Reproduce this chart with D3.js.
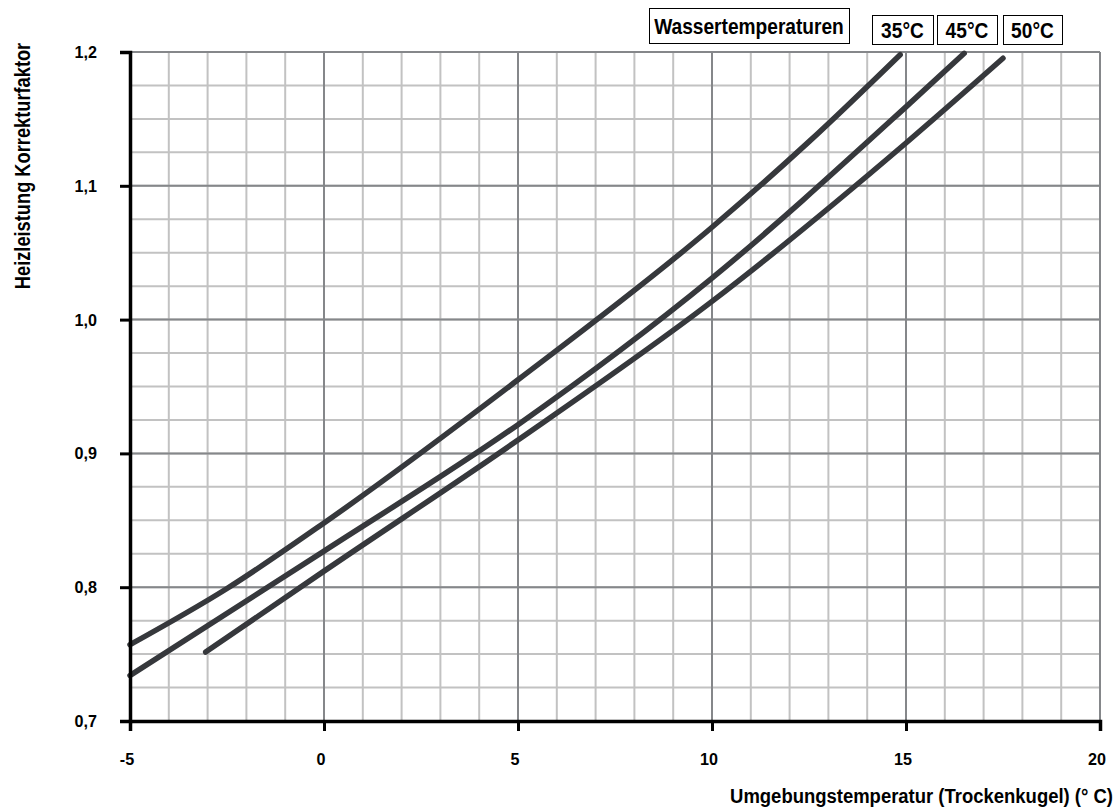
<!DOCTYPE html>
<html>
<head>
<meta charset="utf-8">
<script src="https://cdn.jsdelivr.net/npm/d3@7"></script>
<style>
  body { margin: 0; background: #fff; }
  svg text { font-family: "Liberation Sans", Arial, sans-serif; font-weight: bold; fill: #000; }
</style>
</head>
<body>
<svg id="chart" width="1117" height="807"></svg>
<script>
'use strict'

// water temperature series
const seriesNames = ['35°C', '45°C', '50°C']
const temp35 = [[-5, 0.757], [-2.5, 0.799], [0, 0.848], [5, 0.955], [10, 1.069], [12.5, 1.133], [14.85, 1.198]]
const temp45 = [[-5, 0.734], [0, 0.827], [5, 0.9215], [10, 1.031], [15, 1.159], [16.5, 1.199]]
const temp50 = [[-3.05, 0.7515], [0, 0.812], [5, 0.910], [10, 1.0136], [15, 1.132], [17.5, 1.1953]]

const xTicks = [-5, 0, 5, 10, 15, 20]
const yTicks = [0.7, 0.8, 0.9, 1.0, 1.1, 1.2]
const xTickLabels = ['-5', '0', '5', '10', '15', '20']
const yTickLabels = ['0,7', '0,8', '0,9', '1,0', '1,1', '1,2']
const xMinor = d3.range(-5, 20.001, 1)
const yMinor = d3.range(0, 21).map(i => 0.7 + i * 0.025)

const legendTitle = 'Wassertemperaturen'
const xTitle = 'Umgebungstemperatur (Trockenkugel) (° C)'
const yTitle = 'Heizleistung Korrekturfaktor'

const margin = { top: 52, right: 17, bottom: 86, left: 130 }
const W = 1117, H = 807

const svg = d3.select('#chart')

const x = d3.scaleLinear().domain([-5, 20]).range([margin.left, W - margin.right])
const y = d3.scaleLinear().domain([0.7, 1.2]).range([H - margin.bottom, margin.top])

// text squeezed horizontally to mimic the narrow bold face
function narrowText(parent, str, tx, ty, size, sx, anchor, rot) {
    return parent.append('text')
        .attr('transform', `translate(${tx},${ty}) rotate(${rot || 0}) scale(${sx},1)`)
        .attr('text-anchor', anchor)
        .style('font-size', size + 'px')
        .text(str)
}

// minor grid
const grid = svg.append('g')
grid.selectAll('.vmin').data(xMinor).enter().append('line')
    .attr('x1', d => x(d)).attr('x2', d => x(d))
    .attr('y1', y(0.7)).attr('y2', y(1.2))
    .attr('stroke', '#c2c2c2').attr('stroke-width', 2)
grid.selectAll('.hmin').data(yMinor).enter().append('line')
    .attr('x1', x(-5)).attr('x2', x(20))
    .attr('y1', d => y(d)).attr('y2', d => y(d))
    .attr('stroke', '#c2c2c2').attr('stroke-width', 2)

// major grid
grid.selectAll('.vmaj').data(xTicks).enter().append('line')
    .attr('x1', d => x(d)).attr('x2', d => x(d))
    .attr('y1', y(0.7)).attr('y2', y(1.2))
    .attr('stroke', '#85878a').attr('stroke-width', 2)
grid.selectAll('.hmaj').data(yTicks).enter().append('line')
    .attr('x1', x(-5)).attr('x2', x(20))
    .attr('y1', d => y(d)).attr('y2', d => y(d))
    .attr('stroke', '#85878a').attr('stroke-width', 2)

// curves
const line = d3.line()
    .x(d => x(d[0]))
    .y(d => y(d[1]))
    .curve(d3.curveMonotoneX)

svg.append('g').selectAll('path')
    .data([temp35, temp45, temp50])
    .enter().append('path')
    .attr('d', line)
    .attr('fill', 'none')
    .attr('stroke', '#36383c')
    .attr('stroke-width', 5.5)
    .attr('stroke-linecap', 'round')

// axes (labels drawn separately)
const xAxis = svg.append('g')
    .attr('transform', `translate(0,${y(0.7)})`)
    .call(d3.axisBottom(x).tickValues(xTicks).tickSize(10).tickFormat(''))
const yAxis = svg.append('g')
    .attr('transform', `translate(${x(-5)},0)`)
    .call(d3.axisLeft(y).tickValues(yTicks).tickSize(10).tickFormat(''))

for (const ax of [xAxis, yAxis]) {
    ax.select('.domain').attr('stroke', '#000').attr('stroke-width', 3.5)
    ax.selectAll('.tick line').attr('stroke', '#000').attr('stroke-width', 3)
}

const labels = svg.append('g')
xTicks.forEach((d, i) => narrowText(labels, xTickLabels[i], x(d) - 3, 765, 17, 0.95, 'middle'))
yTicks.forEach((d, i) => narrowText(labels, yTickLabels[i], 97, y(d) + 6, 17, 0.95, 'end'))

// axis titles
narrowText(svg, xTitle, 1113, 803, 21, 0.88, 'end')
narrowText(svg, yTitle, 30, 166, 22, 0.83, 'middle', -90)

// legend boxes
const legendBoxes = [
    { label: legendTitle, x0: 649, x1: 849, y0: 8, y1: 43 },
    { label: seriesNames[0], x0: 872, x1: 933, y0: 15, y1: 44 },
    { label: seriesNames[1], x0: 937, x1: 997, y0: 15, y1: 44 },
    { label: seriesNames[2], x0: 1003, x1: 1062, y0: 15, y1: 44 },
]
const lg = svg.append('g')
legendBoxes.forEach(d => {
    lg.append('rect')
        .attr('x', d.x0 + 0.5).attr('y', d.y0 + 0.5)
        .attr('width', d.x1 - d.x0).attr('height', d.y1 - d.y0)
        .attr('fill', '#fff').attr('stroke', '#000').attr('stroke-width', 1)
    narrowText(lg, d.label, (d.x0 + d.x1) / 2, (d.y0 + d.y1) / 2 + 8, 22, 0.87, 'middle')
})
</script>
</body>
</html>
